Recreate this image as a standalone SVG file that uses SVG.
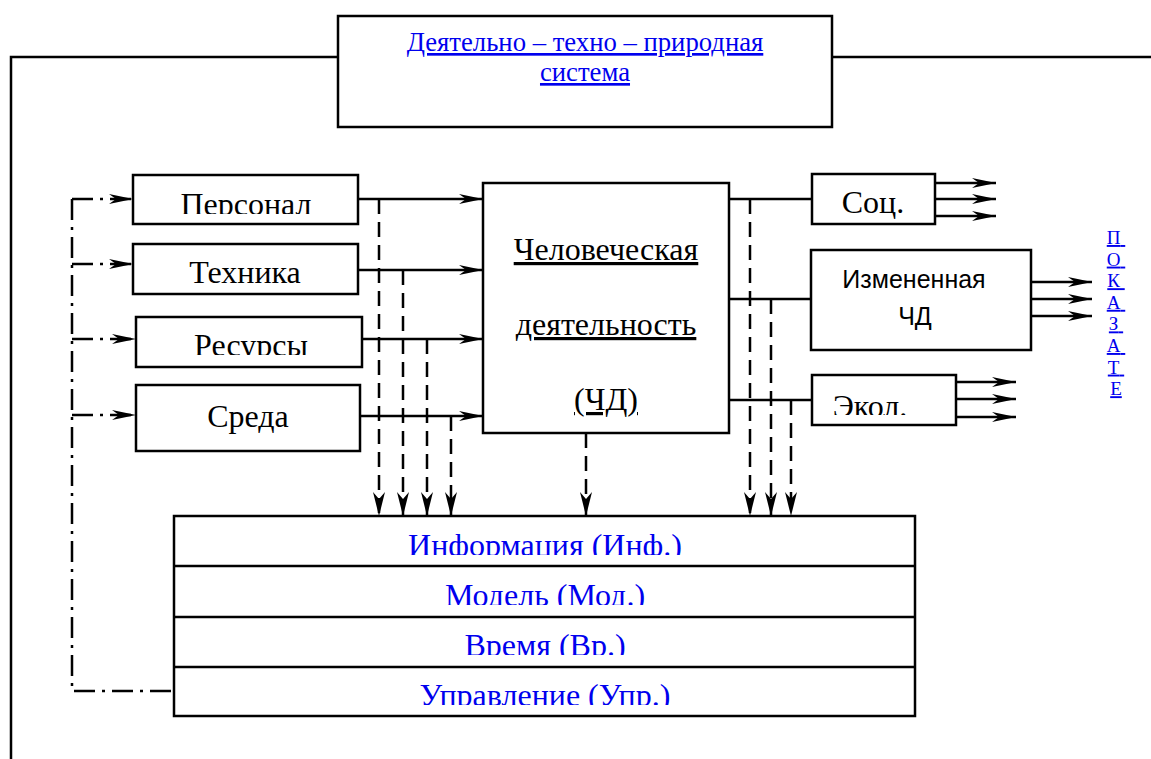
<svg xmlns="http://www.w3.org/2000/svg" width="1151" height="759" viewBox="0 0 1151 759">
<style>
.box{fill:#fff;stroke:#000;stroke-width:2.5}
.ln{fill:none;stroke:#000;stroke-width:2.5}
.dash{fill:none;stroke:#000;stroke-width:2.5;stroke-dasharray:15 8}
.dd{fill:none;stroke:#000;stroke-width:2.5;stroke-dasharray:21 7 3 7}
.t{font-family:"Liberation Serif","Times New Roman",serif;font-size:32px;fill:#000;text-anchor:middle}
.ts{font-family:"Liberation Sans",Arial,sans-serif;font-size:25px;fill:#000;text-anchor:middle}
.blue{fill:#0000ee}
.u{text-decoration:underline}
</style>
<defs>
<marker id="ah" markerUnits="userSpaceOnUse" markerWidth="24" markerHeight="10" viewBox="0 0 24 10" refX="24" refY="5" orient="auto">
<path d="M0,0 L24,5 L0,10 L7,5 z" fill="#000"/>
</marker>
<marker id="ahd" markerUnits="userSpaceOnUse" markerWidth="24" markerHeight="12" viewBox="0 0 24 12" refX="24" refY="6" orient="auto">
<path d="M0,0 L24,6 L0,12 L7,6 z" fill="#000"/>
</marker>
<clipPath id="cPers"><rect x="133" y="175" width="225" height="39"/></clipPath>
<clipPath id="cRes"><rect x="136" y="317" width="226" height="38"/></clipPath>
<clipPath id="cEkol"><rect x="812" y="375" width="144" height="40"/></clipPath>
<clipPath id="cI1"><rect x="174" y="516" width="741" height="39"/></clipPath>
<clipPath id="cI2"><rect x="174" y="566" width="741" height="39"/></clipPath>
<clipPath id="cI3"><rect x="174" y="617" width="741" height="38"/></clipPath>
<clipPath id="cI4"><rect x="174" y="667" width="741" height="38"/></clipPath>
</defs>

<g id="connectors">
<polyline class="ln" points="11,759 11,57 338,57"/>
<line class="ln" x1="832" y1="57" x2="1151" y2="57"/>
<polyline class="dd" points="72,199 72,691 174,691"/>
<line class="dd" x1="72" y1="199" x2="133" y2="199" marker-end="url(#ah)"/>
<line class="dd" x1="72" y1="264" x2="133" y2="264" marker-end="url(#ah)"/>
<line class="dd" x1="72" y1="339" x2="136" y2="339" marker-end="url(#ah)"/>
<line class="dd" x1="72" y1="415" x2="136" y2="415" marker-end="url(#ah)"/>
<line class="ln" x1="358" y1="199" x2="483" y2="199" marker-end="url(#ah)"/>
<line class="ln" x1="358" y1="270" x2="483" y2="270" marker-end="url(#ah)"/>
<line class="ln" x1="362" y1="339" x2="483" y2="339" marker-end="url(#ah)"/>
<line class="ln" x1="360" y1="416" x2="483" y2="416" marker-end="url(#ah)"/>
<line class="dash" x1="379" y1="199" x2="379" y2="516" marker-end="url(#ahd)"/>
<line class="dash" x1="403" y1="270" x2="403" y2="516" marker-end="url(#ahd)"/>
<line class="dash" x1="427" y1="339" x2="427" y2="516" marker-end="url(#ahd)"/>
<line class="dash" x1="451" y1="416" x2="451" y2="516" marker-end="url(#ahd)"/>
<line class="dash" x1="586" y1="433" x2="586" y2="516" marker-end="url(#ahd)"/>
<line class="dash" x1="750" y1="199" x2="750" y2="516" marker-end="url(#ahd)"/>
<line class="dash" x1="771" y1="299" x2="771" y2="516" marker-end="url(#ahd)"/>
<line class="dash" x1="791" y1="400" x2="791" y2="516" marker-end="url(#ahd)"/>
<line class="ln" x1="729" y1="199" x2="812" y2="199"/>
<line class="ln" x1="729" y1="299" x2="811" y2="299"/>
<line class="ln" x1="729" y1="400" x2="812" y2="400"/>
<line class="ln" x1="935" y1="183" x2="996" y2="183" marker-end="url(#ah)"/>
<line class="ln" x1="935" y1="199" x2="996" y2="199" marker-end="url(#ah)"/>
<line class="ln" x1="935" y1="216" x2="996" y2="216" marker-end="url(#ah)"/>
<line class="ln" x1="1031" y1="282" x2="1092" y2="282" marker-end="url(#ah)"/>
<line class="ln" x1="1031" y1="299" x2="1092" y2="299" marker-end="url(#ah)"/>
<line class="ln" x1="1031" y1="316" x2="1092" y2="316" marker-end="url(#ah)"/>
<line class="ln" x1="956" y1="382" x2="1016" y2="382" marker-end="url(#ah)"/>
<line class="ln" x1="956" y1="399" x2="1016" y2="399" marker-end="url(#ah)"/>
<line class="ln" x1="956" y1="417" x2="1016" y2="417" marker-end="url(#ah)"/>
</g>

<g id="system">
<rect class="box" x="338" y="16" width="494" height="111"/>
<text class="t blue u" x="585" y="51" style="font-size:26.7px">Деятельно – техно – природная</text>
<text class="t blue u" x="585" y="81" style="font-size:26.7px">система</text>
</g>

<g id="personal">
<rect class="box" x="133" y="175" width="225" height="49"/>
<text class="t" x="246" y="215" clip-path="url(#cPers)">Персонал</text>
</g>
<g id="tehnika">
<rect class="box" x="133" y="244" width="225" height="50"/>
<text class="t" x="245" y="283">Техника</text>
</g>
<g id="resursy">
<rect class="box" x="136" y="317" width="226" height="50"/>
<text class="t" x="251" y="356" clip-path="url(#cRes)">Ресурсы</text>
</g>
<g id="sreda">
<rect class="box" x="136" y="385" width="224" height="66"/>
<text class="t" x="248" y="427">Среда</text>
</g>

<g id="chd">
<rect class="box" x="483" y="183" width="246" height="250"/>
<text class="t u" x="606" y="260">Человеческая</text>
<text class="t u" x="606" y="335">деятельность</text>
<text class="t u" x="606" y="410">(ЧД)</text>
</g>

<g id="soc">
<rect class="box" x="812" y="174" width="123" height="50"/>
<text class="t" x="873" y="213">Соц.</text>
</g>
<g id="izm">
<rect class="box" x="811" y="250" width="220" height="100"/>
<text class="ts" x="914" y="288">Измененная</text>
<text class="ts" x="915" y="325">ЧД</text>
</g>
<g id="ekol">
<rect class="box" x="812" y="375" width="144" height="50"/>
<text class="t" x="870" y="417" clip-path="url(#cEkol)">Экол.</text>
</g>

<g id="pokazatel">
<text class="t blue u" style="font-size:19px">
<tspan x="1116" y="244">П</tspan>
<tspan x="1116" y="265.6">О</tspan>
<tspan x="1116" y="287.2">К</tspan>
<tspan x="1116" y="308.8">А</tspan>
<tspan x="1116" y="330.4">З</tspan>
<tspan x="1116" y="352">А</tspan>
<tspan x="1116" y="373.6">Т</tspan>
<tspan x="1116" y="395.2">Е</tspan>
</text>
</g>

<g id="info">
<rect class="box" x="174" y="516" width="741" height="200"/>
<line class="ln" x1="174" y1="566" x2="915" y2="566"/>
<line class="ln" x1="174" y1="617" x2="915" y2="617"/>
<line class="ln" x1="174" y1="667" x2="915" y2="667"/>
<text class="t blue" x="545" y="556" clip-path="url(#cI1)">Информация (Инф.)</text>
<text class="t blue" x="545" y="606" clip-path="url(#cI2)">Модель (Мод.)</text>
<text class="t blue" x="545" y="656" clip-path="url(#cI3)">Время (Вр.)</text>
<text class="t blue" x="545" y="706" clip-path="url(#cI4)">Управление (Упр.)</text>
</g>
</svg>
